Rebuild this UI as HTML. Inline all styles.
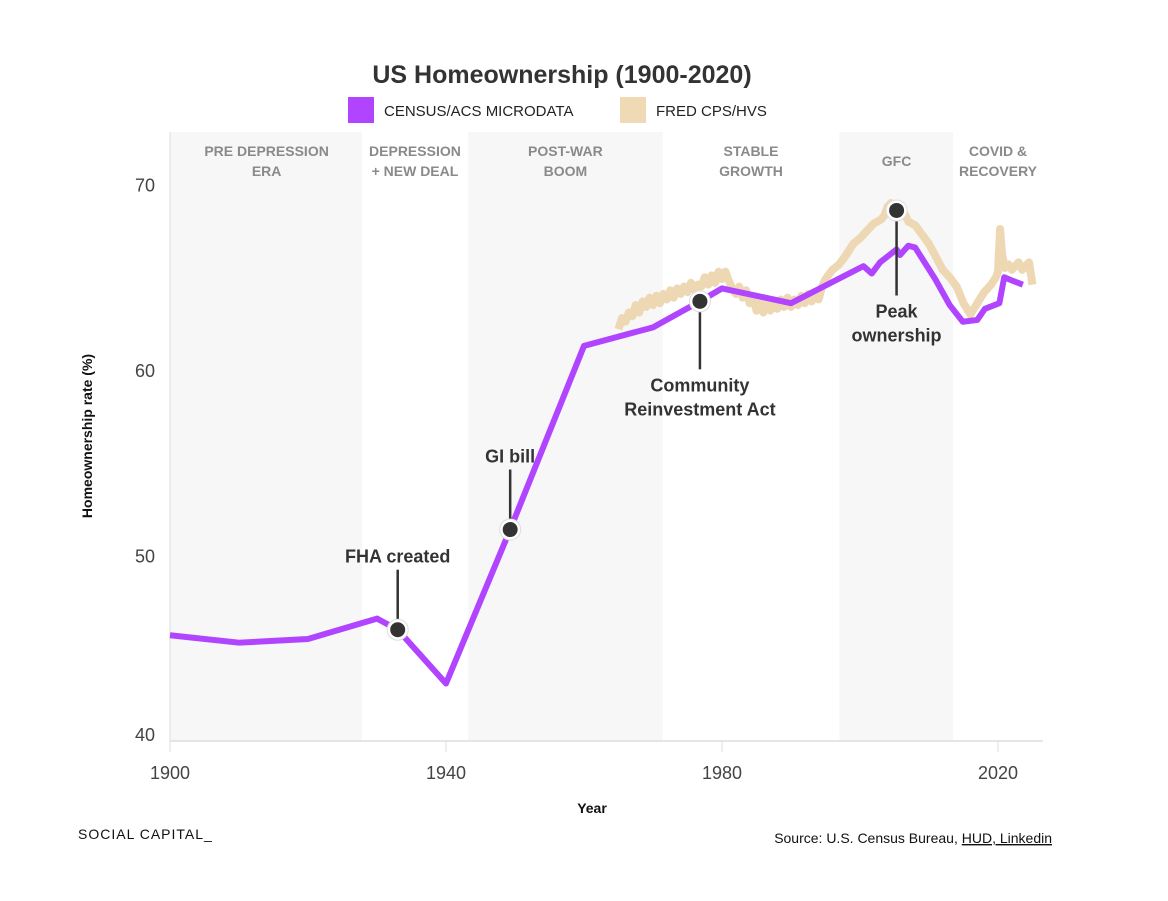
<!DOCTYPE html>
<html><head><meta charset="utf-8"><style>
body{margin:0;background:#fff;width:1168px;height:901px;overflow:hidden;font-family:"Liberation Sans",sans-serif}
svg{display:block}
</style></head><body>
<svg width="1168" height="901">
<g id="bands"></g><g id="axes"></g><g id="series"></g><g id="annots"></g>
<text x="562" y="83" text-anchor="middle" font-size="25" font-weight="bold" fill="#333">US Homeownership (1900-2020)</text>
<g>
<rect x="348" y="97" width="26" height="26" fill="#b044ff"/>
<text x="384" y="116" font-size="15" fill="#222">CENSUS/ACS MICRODATA</text>
<rect x="620" y="97" width="26" height="26" fill="#f0d9b5"/>
<text x="656" y="116" font-size="15" fill="#222">FRED CPS/HVS</text>
</g>
<text transform="translate(92,436) rotate(-90)" text-anchor="middle" font-size="14" font-weight="bold" fill="#111">Homeownership rate (%)</text>
<text x="592" y="813" text-anchor="middle" font-size="14" font-weight="bold" fill="#111">Year</text>
<text x="78" y="839" font-size="14" fill="#111" letter-spacing="1">SOCIAL CAPITAL_</text>
<text x="1052" y="843" text-anchor="end" font-size="14" fill="#111">Source: U.S. Census Bureau, <tspan text-decoration="underline">HUD, Linkedin</tspan></text>
</svg>
<script>
const censusYears=[1900,1910,1920,1930,1933,1940,1949.3,1960,1970,1976.8,1980,1990,2000.5,2001.7,2002.9,2005.3,2005.8,2007,2008,2010.9,2013,2014.9,2017,2018.1,2020.2,2020.9,2022.2,2023.6];
const censusValues=[45.7,45.3,45.5,46.6,46.0,43.1,51.4,61.3,62.3,63.7,64.4,63.6,65.6,65.2,65.8,66.5,66.2,66.7,66.6,64.9,63.5,62.6,62.7,63.3,63.6,65.0,64.8,64.6];
const fredYears=[1965,1965.5,1966,1966.5,1967,1967.5,1968,1968.5,1969,1969.5,1970,1970.5,1971,1971.5,1972,1972.5,1973,1973.5,1974,1974.5,1975,1975.5,1976,1976.5,1977,1977.5,1978,1978.5,1979,1979.5,1980,1980.5,1981,1981.5,1982,1982.5,1983,1983.5,1984,1984.5,1985,1985.5,1986,1986.5,1987,1987.5,1988,1988.5,1989,1989.5,1990,1990.5,1991,1991.5,1992,1992.5,1993,1993.5,1994,1994.5,1995,1996,1997,1998,1999,2000,2001,2002,2003,2003.5,2004,2004.5,2005,2005.5,2006,2006.5,2007,2008,2009,2010,2011,2012,2013,2014,2015,2016,2017,2018,2019,2019.7,2020,2020.3,2020.6,2021,2021.5,2022,2022.5,2023,2023.5,2024,2024.5,2025];
const fredValues=[62.2,62.8,62.6,63.1,62.9,63.5,63.1,63.7,63.4,63.9,63.5,64.0,63.6,64.1,63.8,64.3,63.9,64.4,64.1,64.5,64.2,64.7,64.3,64.6,64.5,65.0,64.6,65.1,64.7,65.3,64.9,65.3,64.8,64.4,64.1,64.5,63.9,64.3,63.6,63.9,63.2,63.6,63.1,63.7,63.2,63.6,63.3,63.8,63.4,63.9,63.4,63.8,63.5,64.0,63.6,64.1,63.7,64.2,63.8,64.5,64.9,65.4,65.7,66.2,66.8,67.1,67.5,67.9,68.1,68.3,68.8,69.0,68.8,68.9,68.6,68.4,68.0,67.8,67.3,66.8,66.1,65.4,65.0,64.5,63.6,63.0,63.6,64.2,64.6,65.0,65.3,67.6,66.2,65.5,65.7,65.4,65.6,65.8,65.4,65.6,65.8,64.6];
const bandStarts=[1900,1943.2,1997];
const bandEnds=[1927.8,1971.4,2013.5];
const eraNames=[["PRE DEPRESSION","ERA"],["DEPRESSION","+ NEW DEAL"],["POST-WAR","BOOM"],["STABLE","GROWTH"],["GFC"],["COVID &","RECOVERY"]];
const eraCenters=[1914,1935.5,1957.3,1984.2,2005.3,2020];
const yTicks=[40,50,60,70];
const xTicks=[1900,1940,1980,2020];
const annotYears=[1933,1949.3,1976.8,2005.3];
const annotValues=[46.0,51.4,63.7,68.6];
const annotLabels=[["FHA created"],["GI bill"],["Community","Reinvestment Act"]];
const NS="http://www.w3.org/2000/svg";
const X=v=>170+(v-1900)*6.9;
const Y=v=>741-(v-40)*18.55;
function mk(p,t,a){const e=document.createElementNS(NS,t);for(const k in a)e.setAttribute(k,a[k]);p.appendChild(e);return e;}
const bands=document.getElementById('bands'),axes=document.getElementById('axes'),series=document.getElementById('series'),annots=document.getElementById('annots');
for(let i=0;i<bandStarts.length;i++){
 const r=mk(bands,'rect',{x:X(bandStarts[i]),y:132,width:X(bandEnds[i])-X(bandStarts[i]),height:609,fill:'#f7f7f7'});
 
 
}
eraNames.forEach((lines,i)=>{
 const t=mk(bands,'text',{x:X(eraCenters[i]),y:lines.length==1?166:156,'text-anchor':'middle','font-size':14,'font-weight':'bold',fill:'#8a8a8a'});
 
 
 lines.forEach((l,j)=>{const s=mk(t,'tspan',{x:X(eraCenters[i]),dy:j?20:0});s.textContent=l;});
});
mk(axes,'line',{x1:170,y1:132,x2:170,y2:741,stroke:'#ddd'});
const xl=mk(axes,'line',{x1:170,y1:741,x2:1043,y2:741,stroke:'#ddd','stroke-width':1.5});


yTicks.forEach(v=>{
 const t=mk(axes,'text',{x:155,y:Y(v)+(v==40?0:7),'text-anchor':'end','font-size':18,fill:'#444'});
 t.textContent=v;
 
 
});
xTicks.forEach(v=>{
 mk(axes,'line',{x1:X(v),y1:741,x2:X(v),y2:752,stroke:'#ddd'});
 const t=mk(axes,'text',{x:X(v),y:779,'text-anchor':'middle','font-size':18,fill:'#444'});
 t.textContent=v;
 
 
});
const fp=mk(series,'polyline',{points:fredYears.map((y,i)=>X(y)+','+Y(fredValues[i])).join(' '),fill:'none',stroke:'#eed8b4','stroke-width':8,'stroke-linejoin':'round'});


const cp=mk(series,'polyline',{points:censusYears.map((y,i)=>X(y)+','+Y(censusValues[i])).join(' '),fill:'none',stroke:'#b044ff','stroke-width':6,'stroke-linejoin':'round'});


annotYears.forEach((yr,i)=>{
 const cx=X(yr),cy=Y(annotValues[i]);
 const below=i>=2;
 const ly1=below?cy:cy-60, ly2=below?cy+(i==3?85:68):cy;
 mk(annots,'line',{x1:cx,y1:ly1,x2:cx,y2:ly2,stroke:'#333','stroke-width':2.5});
 mk(annots,'circle',{cx:cx,cy:cy,r:10.5,fill:'#fff',stroke:'#ddd','stroke-width':1});
 const d=mk(annots,'circle',{cx:cx,cy:cy,r:7.5,fill:'#333'});
 
 
 const lines=i==3?['Peak','ownership']:annotLabels[i];
 const ty=below?ly2+22:cy-67;
 const t=mk(annots,'text',{x:cx,y:ty,'text-anchor':'middle','font-size':18,'font-weight':'bold',fill:'#333'});
 
 
 lines.forEach((l,j)=>{const s=mk(t,'tspan',{x:cx,dy:j?24:0});s.textContent=l;});
});
</script>
</body></html>
